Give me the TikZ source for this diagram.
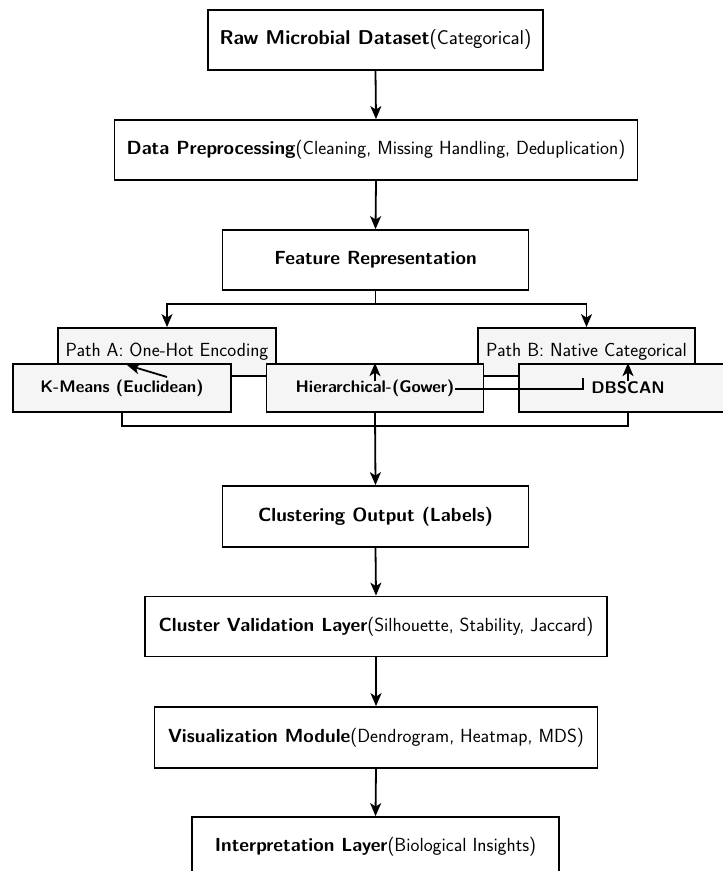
\documentclass[tikz,border=0pt]{standalone}
\usepackage{fontspec}
\usetikzlibrary{arrows.meta,calc}
\begin{document}
\begin{tikzpicture}[x=1pt,y=-1pt,
  box/.style={draw=black, line width=1.8pt, fill=white, rectangle, inner sep=0pt,
    font=\fontsize{19}{23}\selectfont\sffamily, align=center},
  gbox/.style={box, fill=black!4},
  mbox/.style={gbox, font=\fontsize{16.8}{21}\selectfont\sffamily},
  arr/.style={line width=1.8pt, -{Stealth[length=13pt,width=11pt,inset=3.5pt]}},
  ln/.style={line width=1.8pt}]
\useasboundingbox (0,0) rectangle (723,871);
\clip (0,0) rectangle (723,871);

\node[box, minimum width=335pt, minimum height=60pt, font=\fontsize{20}{24}\selectfont\sffamily] (raw) at (375.5,40)
  {\textbf{Raw Microbial Dataset}(Categorical)};
\node[box, minimum width=523pt, minimum height=60pt] (prep) at (376,150)
  {\textbf{Data Preprocessing}(Cleaning, Missing Handling, Deduplication)};
\node[box, minimum width=306pt, minimum height=60pt] (feat) at (375.5,260)
  {\textbf{Feature Representation}};

\node[gbox, minimum width=218pt, minimum height=48pt] (patha) at (167,352)
  {Path A: One-Hot Encoding};
\node[gbox, minimum width=217pt, minimum height=48pt] (pathb) at (586.5,352)
  {Path B: Native Categorical};

\node[mbox, minimum width=218pt, minimum height=48pt] (km) at (122,388)
  {\textbf{K-Means (Euclidean)}};
\node[mbox, minimum width=217pt, minimum height=48pt] (hier) at (375,388)
  {\textbf{Hierarchical-(Gower)}};
\node[mbox, minimum width=218pt, minimum height=48pt] (db) at (628,388)
  {\textbf{DBSCAN}};

\node[box, minimum width=306pt, minimum height=61pt] (clust) at (375.5,516.5)
  {\textbf{Clustering Output (Labels)}};
\node[box, minimum width=462pt, minimum height=60pt] (valid) at (376,626.5)
  {\textbf{Cluster Validation Layer}(Silhouette, Stability, Jaccard)};
\node[box, minimum width=443pt, minimum height=61pt] (vis) at (376,737.5)
  {\textbf{Visualization Module}(Dendrogram, Heatmap, MDS)};
\node[box, minimum width=367pt, minimum height=60pt] (interp) at (375.5,847)
  {\textbf{Interpretation Layer}(Biological Insights)};

% main column
\draw[arr] (raw.south) -- (prep.north);
\draw[arr] (prep.south) -- (feat.north);
\draw[arr] (feat.south) -- ++(0,13) -| (patha.north);
\draw[arr] (feat.south) -- ++(0,13) -| (pathb.north);

% stray connectors in the method row
\coordinate (kmS) at (167,377);
\coordinate (kmT) at (127,365);
\draw[arr] (kmS) -- (kmT);
\coordinate (hA) at (375,381);
\draw[arr] (hA) -- (hier.north);
\coordinate (dA) at (628,381);
\draw[arr] (dA) -- (db.north);
\coordinate (gE) at (455,389);
\coordinate (gK) at (583,389);
\draw[ln] (gE) -- (gK) -- ++(0,-11);

% merge
\draw[ln] (km.south) -- ++(0,13) -| (db.south);
\draw[arr] (hier.south) -- (clust.north);

\draw[arr] (clust.south) -- (valid.north);
\draw[arr] (valid.south) -- (vis.north);
\draw[arr] (vis.south) -- (interp.north);
\end{tikzpicture}
\end{document}
